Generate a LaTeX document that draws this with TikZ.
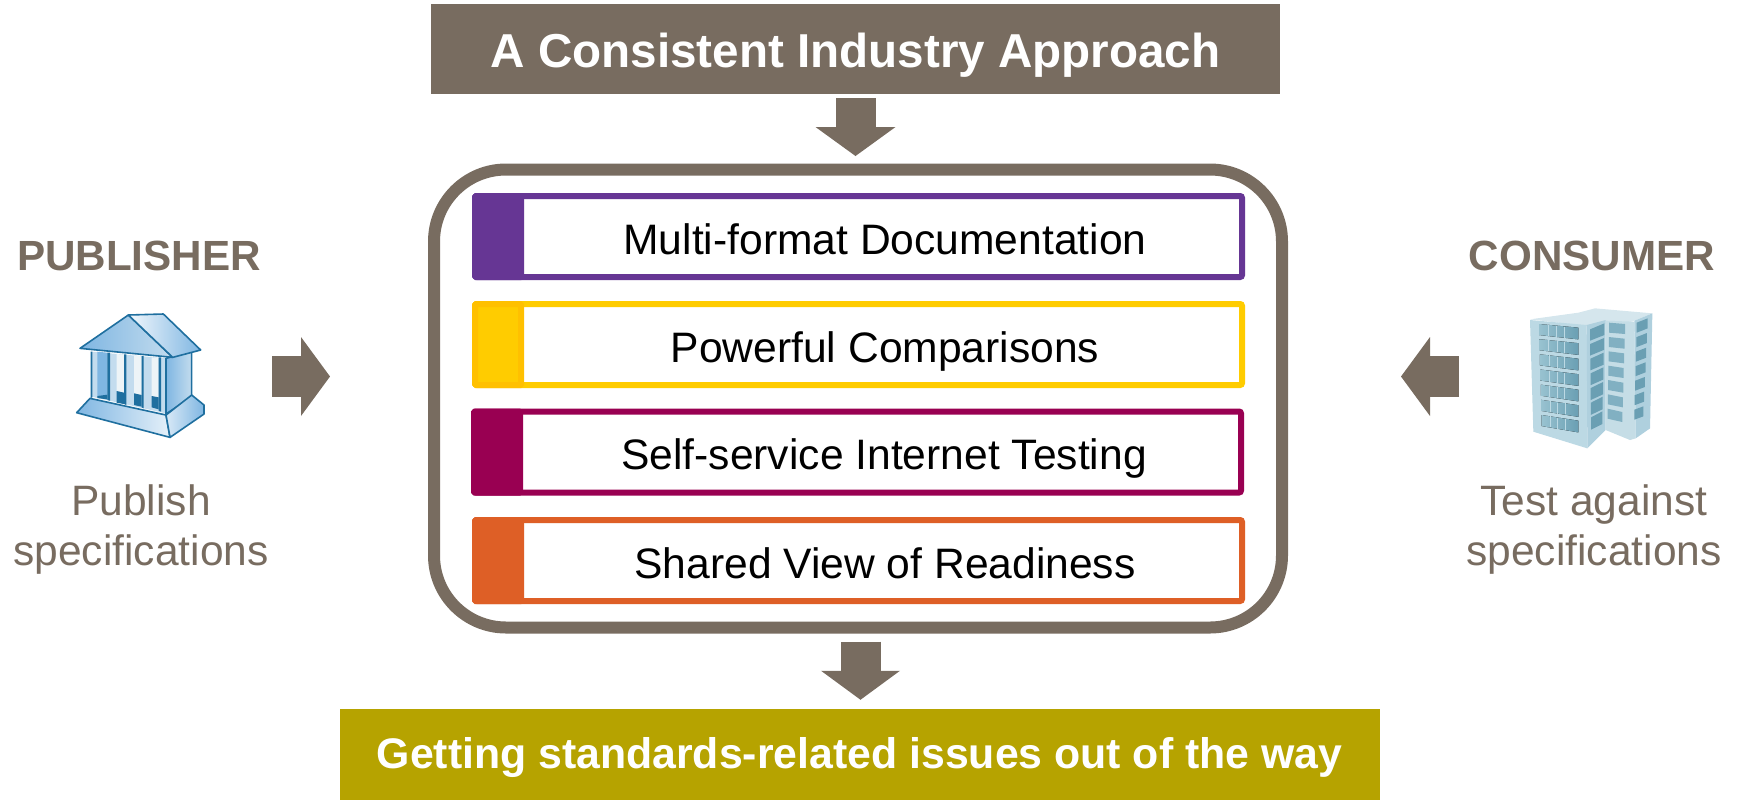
\documentclass[tikz,border=0pt]{standalone}
\usepackage{fontspec}
\usetikzlibrary{arrows.meta}
\setmainfont{Liberation Sans}

\definecolor{brownish}{HTML}{786C60}
\definecolor{olive}{HTML}{B6A300}
\definecolor{rowpurple}{HTML}{663694}
\definecolor{rowgold}{HTML}{FFCC00}
\definecolor{rowgoldedge}{HTML}{FFC000}
\definecolor{rowwine}{HTML}{990052}
\definecolor{roworange}{HTML}{DE5F26}
\definecolor{templeline}{HTML}{1F6F9F}
\definecolor{templemid}{HTML}{7FB6E2}
\definecolor{templepale}{HTML}{C3DCEE}
\definecolor{towerroof}{HTML}{D5E6ED}
\definecolor{towerleft}{HTML}{BCD9E4}
\definecolor{towerside}{HTML}{AFD0DE}
\definecolor{towerback}{HTML}{C5DDE6}
\definecolor{towerglass}{HTML}{6A9FB3}
\definecolor{towerpale}{HTML}{98C2D0}

\tikzset{
  banner/.style={fill=#1, inner sep=0pt, outer sep=0pt, text=white, font=\bfseries},
  rowbox/.style={draw=#1, fill=white, line width=3pt, rounded corners=1pt, inner sep=0pt, outer sep=0pt,
    minimum width=383.5pt, minimum height=40.5pt, text height=18pt, text depth=0.5pt,
    font=\fontsize{21.3pt}{24pt}\selectfont, execute at begin node=\hspace{26.5pt}},
  rowtab/.style={fill=#1, draw=#1, line width=3pt, rounded corners=0.5pt, inner sep=0pt, outer sep=0pt,
    minimum width=23pt, minimum height=40.5pt, anchor=west},
  rolename/.style={text=brownish, anchor=base, font=\fontsize{21.1pt}{25pt}\selectfont\bfseries},
  rolenote/.style={text=brownish, align=center, font=\fontsize{21.25pt}{25pt}\selectfont},
  iconspot/.style={inner sep=0pt, outer sep=0pt},
  bigarrow/.style 2 args={brownish, line width=#1, -{Triangle[length=14.5pt, width=#2, line width=0pt]}},
}

\begin{document}
\begin{tikzpicture}[x=0.5pt, y=-0.5pt]
  \useasboundingbox (0,0) rectangle (1741,800);

  % Top and bottom banners
  \node[banner=brownish, minimum width=424.5pt, minimum height=45pt, text height=18.5pt, text depth=0pt, font=\fontsize{23.8pt}{28pt}\selectfont\bfseries] (title) at (855.5,49) {A Consistent Industry Approach};
  \node[banner=olive, minimum width=520pt, minimum height=45.75pt, text height=14pt, text depth=0pt, font=\fontsize{21.4pt}{26pt}\selectfont\bfseries] (goal) at (859.5,754.5) {Getting standards-related issues out of the way};

  % Middle panel and its four rows
  \node[draw=brownish, fill=white, line width=6pt, rounded corners=36pt, inner sep=0pt, outer sep=0pt, minimum width=424pt, minimum height=229pt] (panel) at (858,398.5) {};

  \node[rowbox=rowpurple] (docs) at (858.5,236.5) {Multi-format Documentation};
  \node[rowbox=rowgold] (compare) at (858.5,344.5) {Powerful Comparisons};
  \node[rowbox=rowwine] (testing) at (857.5,452) {Self-service Internet Testing};
  \node[rowbox=roworange] (readiness) at (858.5,560.5) {Shared View of Readiness};

  \node[rowtab=rowpurple] (docstab) at (docs.west) {};
  \node[rowtab=rowgold, draw=rowgoldedge] (comparetab) at (compare.west) {};
  \node[rowtab=rowwine] (testingtab) at (testing.west) {};
  \node[rowtab=roworange] (readinesstab) at (readiness.west) {};

  % Publisher side
  \node[rolename] (publisher) at (139,270) {PUBLISHER};
  \node[iconspot, minimum width=65pt, minimum height=60pt] (pubicon) at (127,376.5) {};
  \node[rolenote] (pubnote) at (141,529.5) {Publish\\specifications};

  % Consumer side
  \node[rolename] (consumer) at (1592,270) {CONSUMER};
  \node[iconspot, minimum width=61pt, minimum height=70pt] (conicon) at (1591,376.5) {};
  \node[rolenote] (connote) at (1594,529.5) {Test against\\specifications};

  % Temple picture
  \begin{scope}[shift={(60,300)}, x=0.1667pt, y=-0.1667pt, line join=round]
    \draw[templeline, line width=0.8pt, left color=templemid, right color=templepale] (318,175) -- (395,155) -- (395,290) -- (318,342) -- cycle;
    \fill[templepale] (95,155) -- (318,175) -- (318,340) -- (95,290) -- cycle;
    \fill[templemid] (112,155) -- (142,158) -- (142,298) -- (112,292) -- cycle;
    \fill[white!92!templeline] (170,162) -- (192,164) -- (192,278) -- (170,273) -- cycle;
    \fill[white!92!templeline] (222,167) -- (245,169) -- (245,285) -- (222,280) -- cycle;
    \fill[white!92!templeline] (275,172) -- (296,174) -- (296,292) -- (275,288) -- cycle;
    \fill[templeline] (170,273) -- (192,278) -- (192,312) -- (170,308) -- cycle;
    \fill[templeline] (222,280) -- (245,285) -- (245,320) -- (222,315) -- cycle;
    \fill[templeline] (275,288) -- (296,292) -- (296,328) -- (275,322) -- cycle;
    \fill[templeline] (112,288) -- (142,284) -- (142,298) -- (112,294) -- cycle;
    \fill[templeline] (142,158) -- (150,158) -- (150,302) -- (142,300) -- cycle;
    \fill[templeline] (192,163) -- (199,163) -- (199,315) -- (192,312) -- cycle;
    \fill[templeline] (245,168) -- (251,168) -- (251,325) -- (245,322) -- cycle;
    \fill[templeline] (296,172) -- (303,172) -- (303,335) -- (296,332) -- cycle;
    \fill[templeline] (92,155) -- (97,155) -- (97,292) -- (92,294) -- cycle;
    \draw[templeline, line width=0.8pt] (318,175) -- (318,342);
    % base of the temple
    \draw[templeline, line width=0.8pt, left color=templemid, right color=white!80!templemid] (50,338) -- (90,295) -- (318,345) -- (330,412) -- cycle;
    \draw[templeline, line width=0.8pt, left color=white!70!templemid, right color=templemid] (318,345) -- (395,285) -- (432,315) -- (432,342) -- (330,412) -- cycle;
    % roof
    \draw[templeline, line width=0.8pt, left color=templemid, right color=templepale] (60,145) -- (205,45) -- (338,172) -- cycle;
    \draw[templeline, line width=0.8pt, left color=white!90!templemid, right color=templemid] (205,45) -- (310,42) -- (422,150) -- (338,172) -- cycle;
  \end{scope}

  % Office block picture
  \begin{scope}[shift={(1515,300)}, x=0.1667pt, y=-0.1667pt]
    \fill[towerroof] (45,58) -- (190,38) -- (240,25) -- (412,40) -- (350,65) -- (215,78) -- cycle;
    \fill[towerleft] (45,60) -- (215,75) -- (217,445) -- (55,395) -- cycle;
    \fill[towerside] (215,75) -- (272,60) -- (272,390) -- (217,445) -- cycle;
    \fill[towerback] (272,62) -- (358,65) -- (362,415) -- (345,420) -- (272,390) -- cycle;
    \fill[towerside] (358,62) -- (412,40) -- (405,385) -- (362,415) -- cycle;
    \foreach \n in {0,...,6} {
      \fill[left color=towerpale, right color=towerglass]
        (72+1.3*\n,72+45.5*\n) -- (190,83+46.5*\n) -- (190,118+46.5*\n) -- (72+1.3*\n,105+45.5*\n) -- cycle;
      \draw[towerleft, line width=0.3pt] (100+\n,75+45.5*\n) -- (100+\n,108+45.5*\n) (125+0.5*\n,78+46*\n) -- (125+0.5*\n,111+46*\n) (148+0.3*\n,80+46*\n) -- (148+0.3*\n,113+46*\n);
      \fill[towerglass] (225+0.5*\n,88+44*\n) -- (268-1*\n,70+44*\n) -- (268-1*\n,105+44.5*\n) -- (225+0.5*\n,122+44.5*\n) -- cycle;
      \fill[towerpale!50!towerglass] (282-0.7*\n,68+43*\n) -- (330-1.3*\n,72+44*\n) -- (330-1.3*\n,102+44*\n) -- (282-0.7*\n,98+43*\n) -- cycle;
      \fill[towerglass] (365-1.2*\n,68+43.5*\n) -- (398-2.2*\n,55+44*\n) -- (398-2.2*\n,85+44*\n) -- (365-1.2*\n,98+43.5*\n) -- cycle;
    }
  \end{scope}

  % Block arrows
  \coordinate (outlet) at (860.5,660);
  \draw[bigarrow={20pt}{40pt}, shorten <=2pt, shorten >=6.75pt] (title.south) -- (title.south |- panel.north);
  \draw[bigarrow={20pt}{39.5pt}, shorten <=7pt, shorten >=4.5pt] (outlet |- panel.south) -- (outlet |- goal.north);
  \draw[bigarrow={20.5pt}{39.5pt}, shorten <=40pt, shorten >=52pt] (pubicon.east) -- (pubicon.east -| panel.west);
  \draw[bigarrow={20.5pt}{39.5pt}, shorten <=35.5pt, shorten >=59.5pt] (conicon.west) -- (conicon.west -| panel.east);
\end{tikzpicture}
\end{document}
